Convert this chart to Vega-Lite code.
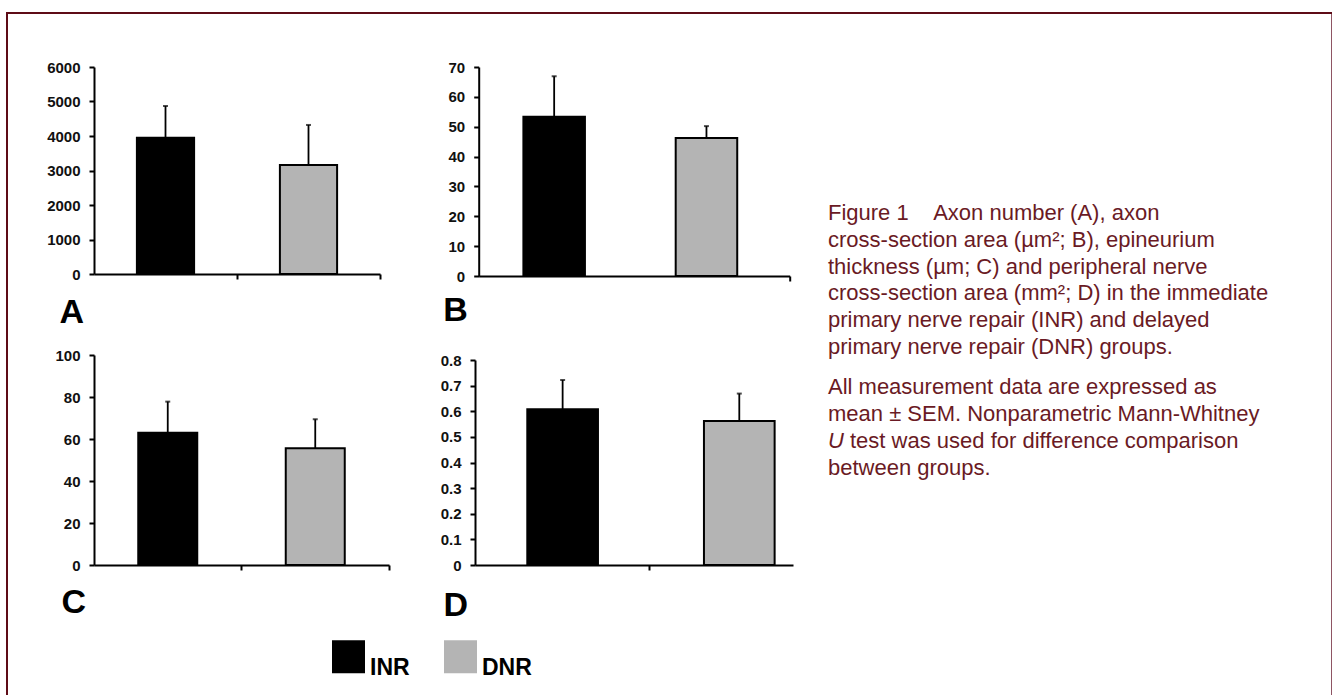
{
  "$schema": "https://vega.github.io/schema/vega-lite/v6.json",
  "padding": {"left": 6, "top": 12, "right": 0, "bottom": 0},
  "background": "#ffffff",
  "datasets": {
    "bars": [
      {"panel": "A", "group": "INR", "mean": 3950, "upper": 4870},
      {"panel": "A", "group": "DNR", "mean": 3160, "upper": 4320},
      {"panel": "B", "group": "INR", "mean": 53.3, "upper": 66.9},
      {"panel": "B", "group": "DNR", "mean": 46.2, "upper": 50.2},
      {"panel": "C", "group": "INR", "mean": 63.0, "upper": 77.8},
      {"panel": "C", "group": "DNR", "mean": 55.6, "upper": 69.4},
      {"panel": "D", "group": "INR", "mean": 0.608, "upper": 0.722},
      {"panel": "D", "group": "DNR", "mean": 0.562, "upper": 0.669}
    ],
    "caption": [
      {"line": 1, "text": "Figure 1\u00a0\u00a0\u00a0\u00a0Axon number (A), axon"},
      {"line": 2, "text": "cross-section area (µm²; B), epineurium"},
      {"line": 3, "text": "thickness (µm; C) and peripheral nerve"},
      {"line": 4, "text": "cross-section area (mm²; D) in the immediate"},
      {"line": 5, "text": "primary nerve repair (INR) and delayed"},
      {"line": 6, "text": "primary nerve repair (DNR) groups."},
      {"line": 7.5, "text": "All measurement data are expressed as"},
      {"line": 8.5, "text": "mean ± SEM. Nonparametric Mann-Whitney"},
      {"line": 9.5, "lead": "U", "text": "test was used for difference comparison"},
      {"line": 10.5, "text": "between groups."}
    ]
  },
  "spacing": 0,
  "align": "none",
  "vconcat": [
    {"width": 1326, "height": 2, "view": {"fill": "#5e0c17", "stroke": null}, "data": {"values": []}, "mark": "point"},
    {
      "spacing": 35,
      "align": "none",
      "hconcat": [
        {"width": 2, "height": 681, "view": {"fill": "#5e0c17", "stroke": null}, "data": {"values": []}, "mark": "point"},
        {
          "spacing": 19,
          "align": "none",
          "vconcat": [
            {"width": 1, "height": 27, "data": {"values": []}, "mark": "point"},
            {
              "spacing": 98.7,
              "bounds": "flush",
              "align": "none",
              "hconcat": [
                {
                  "width": 286, "height": 207,
                  "data": {"name": "bars"},
                  "transform": [{"filter": {"field": "panel", "equal": "A"}}],
                  "encoding": {"x": {"field": "group", "type": "nominal", "sort": ["INR", "DNR"],
                    "scale": {"paddingInner": 0.6, "paddingOuter": 0.3, "align": 0.5},
                    "axis": {"labels": false, "values": ["INR", "DNR"], "bandPosition": 1.75, "title": "A", "titleX": -35, "titleY": 48, "titleAlign": "left", "titleBaseline": "alphabetic", "titleAnchor": "start"}}},
                  "layer": [
                    {"mark": {"type": "bar", "stroke": "#000000", "strokeWidth": 2},
                     "encoding": {
                       "y": {"field": "mean", "type": "quantitative", "scale": {"domain": [0, 6000], "nice": false}, "axis": {"values": [0, 1000, 2000, 3000, 4000, 5000, 6000], "tickCount": 20, "format": "~r", "minExtent": 49, "title": null}},
                       "color": {"field": "group", "type": "nominal", "scale": {"domain": ["INR", "DNR"], "range": ["#000000", "#b4b4b4"]},
                         "legend": {"orient": "none", "legendX": 326, "legendY": 628, "direction": "horizontal", "title": null, "symbolType": "square", "symbolSize": 1089, "symbolStrokeWidth": 0, "symbolOpacity": 1, "labelFont": "Liberation Sans", "labelFontSize": 23, "labelFontWeight": "bold", "labelColor": "#000000", "labelOffset": 5, "labelBaseline": "top", "columnPadding": 34, "padding": 0}}
                     }},
                    {"mark": {"type": "rule", "color": "#000000", "strokeWidth": 1.8}, "encoding": {"y": {"field": "upper", "type": "quantitative"}, "y2": {"field": "mean"}}},
                    {"mark": {"type": "tick", "color": "#000000", "size": 5, "thickness": 2}, "encoding": {"y": {"field": "upper", "type": "quantitative"}}}
                  ]
                },
                {
                  "width": 311, "height": 209,
                  "data": {"name": "bars"},
                  "transform": [{"filter": {"field": "panel", "equal": "B"}}],
                  "encoding": {"x": {"field": "group", "type": "nominal", "sort": ["INR", "DNR"],
                    "scale": {"paddingInner": 0.596, "paddingOuter": 0.319, "align": 0.46},
                    "axis": {"labels": false, "values": ["DNR"], "bandPosition": 1.853, "title": "B", "titleX": -36, "titleY": 44, "titleAlign": "left", "titleBaseline": "alphabetic", "titleAnchor": "start"}}},
                  "layer": [
                    {"mark": {"type": "bar", "stroke": "#000000", "strokeWidth": 2},
                     "encoding": {
                       "y": {"field": "mean", "type": "quantitative", "scale": {"domain": [0, 70], "nice": false}, "axis": {"values": [0, 10, 20, 30, 40, 50, 60, 70], "tickCount": 20, "format": "~r", "title": null}},
                       "color": {"field": "group", "type": "nominal", "scale": {"domain": ["INR", "DNR"], "range": ["#000000", "#b4b4b4"]},
                         "legend": {"orient": "none", "legendX": 326, "legendY": 628, "direction": "horizontal", "title": null, "symbolType": "square", "symbolSize": 1089, "symbolStrokeWidth": 0, "symbolOpacity": 1, "labelFont": "Liberation Sans", "labelFontSize": 23, "labelFontWeight": "bold", "labelColor": "#000000", "labelOffset": 5, "labelBaseline": "top", "columnPadding": 34, "padding": 0}}
                     }},
                    {"mark": {"type": "rule", "color": "#000000", "strokeWidth": 1.8}, "encoding": {"y": {"field": "upper", "type": "quantitative"}, "y2": {"field": "mean"}}},
                    {"mark": {"type": "tick", "color": "#000000", "size": 5, "thickness": 2}, "encoding": {"y": {"field": "upper", "type": "quantitative"}}}
                  ]
                }
              ]
            },
            {
              "spacing": 86,
              "bounds": "flush",
              "align": "none",
              "hconcat": [
                {
                  "width": 295, "height": 210,
                  "data": {"name": "bars"},
                  "transform": [{"filter": {"field": "panel", "equal": "C"}}],
                  "encoding": {"x": {"field": "group", "type": "nominal", "sort": ["INR", "DNR"],
                    "scale": {"paddingInner": 0.6, "paddingOuter": 0.3, "align": 0.5},
                    "axis": {"labels": false, "values": ["INR", "DNR"], "bandPosition": 1.75, "title": "C", "titleX": -33, "titleY": 47, "titleAlign": "left", "titleBaseline": "alphabetic", "titleAnchor": "start"}}},
                  "layer": [
                    {"mark": {"type": "bar", "stroke": "#000000", "strokeWidth": 2},
                     "encoding": {
                       "y": {"field": "mean", "type": "quantitative", "scale": {"domain": [0, 100], "nice": false}, "axis": {"values": [0, 20, 40, 60, 80, 100], "tickCount": 20, "format": "~r", "minExtent": 51, "title": null}},
                       "color": {"field": "group", "type": "nominal", "scale": {"domain": ["INR", "DNR"], "range": ["#000000", "#b4b4b4"]},
                         "legend": {"orient": "none", "legendX": 326, "legendY": 628, "direction": "horizontal", "title": null, "symbolType": "square", "symbolSize": 1089, "symbolStrokeWidth": 0, "symbolOpacity": 1, "labelFont": "Liberation Sans", "labelFontSize": 23, "labelFontWeight": "bold", "labelColor": "#000000", "labelOffset": 5, "labelBaseline": "top", "columnPadding": 34, "padding": 0}}
                     }},
                    {"mark": {"type": "rule", "color": "#000000", "strokeWidth": 1.8}, "encoding": {"y": {"field": "upper", "type": "quantitative"}, "y2": {"field": "mean"}}},
                    {"mark": {"type": "tick", "color": "#000000", "size": 5, "thickness": 2}, "encoding": {"y": {"field": "upper", "type": "quantitative"}}}
                  ]
                },
                {
                  "width": 318, "height": 210,
                  "data": {"name": "bars"},
                  "transform": [{"filter": {"field": "panel", "equal": "D"}}],
                  "encoding": {"x": {"field": "group", "type": "nominal", "sort": ["INR", "DNR"],
                    "scale": {"paddingInner": 0.6, "paddingOuter": 0.2, "align": 0.74},
                    "axis": {"labels": false, "values": ["INR"], "bandPosition": 1.735, "title": "D", "titleX": -32, "titleY": 50, "titleAlign": "left", "titleBaseline": "alphabetic", "titleAnchor": "start"}}},
                  "layer": [
                    {"mark": {"type": "bar", "stroke": "#000000", "strokeWidth": 2},
                     "encoding": {
                       "y": {"field": "mean", "type": "quantitative", "scale": {"domain": [0, 0.8], "range": [210, 5], "nice": false}, "axis": {"values": [0, 0.1, 0.2, 0.3, 0.4, 0.5, 0.6, 0.7, 0.8], "tickCount": 20, "format": "~r", "title": null}},
                       "color": {"field": "group", "type": "nominal", "scale": {"domain": ["INR", "DNR"], "range": ["#000000", "#b4b4b4"]},
                         "legend": {"orient": "none", "legendX": 326, "legendY": 628, "direction": "horizontal", "title": null, "symbolType": "square", "symbolSize": 1089, "symbolStrokeWidth": 0, "symbolOpacity": 1, "labelFont": "Liberation Sans", "labelFontSize": 23, "labelFontWeight": "bold", "labelColor": "#000000", "labelOffset": 5, "labelBaseline": "top", "columnPadding": 34, "padding": 0}}
                     }},
                    {"mark": {"type": "rule", "color": "#000000", "strokeWidth": 1.8}, "encoding": {"y": {"field": "upper", "type": "quantitative"}, "y2": {"field": "mean"}}},
                    {"mark": {"type": "tick", "color": "#000000", "size": 5, "thickness": 2}, "encoding": {"y": {"field": "upper", "type": "quantitative"}}}
                  ]
                }
              ]
            }
          ]
        },
        {
          "width": 468, "height": 480,
          "data": {"name": "caption"},
          "encoding": {
            "y": {"field": "line", "type": "quantitative", "scale": {"domain": [-6.687, 11.224], "reverse": true, "nice": false, "zero": false}, "axis": null},
            "x": {"value": 0}
          },
          "layer": [
            {"transform": [{"filter": "datum.line !== 9.5"}],
             "mark": {"type": "text", "align": "left", "baseline": "alphabetic", "font": "Liberation Sans", "fontSize": 22, "color": "#6a1a24"},
             "encoding": {"text": {"field": "text"}}},
            {"transform": [{"filter": "datum.line === 9.5"}],
             "mark": {"type": "text", "align": "left", "baseline": "alphabetic", "font": "Liberation Sans", "fontSize": 22, "fontStyle": "italic", "color": "#6a1a24"},
             "encoding": {"text": {"field": "lead"}}},
            {"transform": [{"filter": "datum.line === 9.5"}],
             "mark": {"type": "text", "align": "left", "baseline": "alphabetic", "font": "Liberation Sans", "fontSize": 22, "dx": 22, "color": "#6a1a24"},
             "encoding": {"text": {"field": "text"}}}
          ]
        },
        {"width": 1, "height": 681, "view": {"fill": "#8e5563", "stroke": null}, "data": {"values": []}, "mark": "point"}
      ]
    }
  ],
  "config": {
    "view": {"stroke": null},
    "font": "Liberation Sans",
    "axis": {
      "domainColor": "#000000", "domainWidth": 2,
      "tickColor": "#000000", "tickWidth": 2, "tickSize": 5,
      "labelFont": "Liberation Sans", "labelFontSize": 15, "labelFontWeight": "bold", "labelColor": "#111111", "labelPadding": 9,
      "labelOverlap": false,
      "grid": false,
      "titleFont": "Liberation Sans", "titleFontSize": 34, "titleFontWeight": "bold", "titleColor": "#000000"
    }
  }
}
